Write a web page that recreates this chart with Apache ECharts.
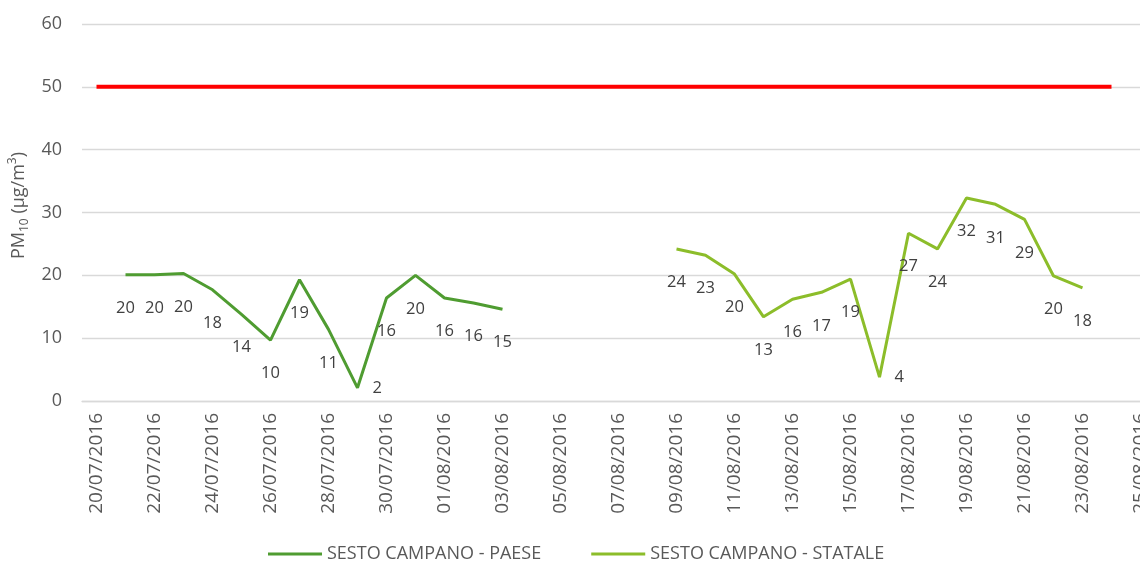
<!DOCTYPE html>
<html>
<head>
<meta charset="utf-8">
<script src="https://cdn.jsdelivr.net/npm/echarts@6/dist/echarts.min.js"></script>
<style>
  html, body { margin: 0; padding: 0; background: #ffffff; }
  #chart { width: 1140px; height: 564px; }
</style>
</head>
<body>
<div id="chart"></div>
<script>
// Daily dates on the horizontal axis (one category per day)
const categories = [
  '20/07/2016', '21/07/2016', '22/07/2016', '23/07/2016', '24/07/2016', '25/07/2016',
  '26/07/2016', '27/07/2016', '28/07/2016', '29/07/2016', '30/07/2016', '31/07/2016',
  '01/08/2016', '02/08/2016', '03/08/2016', '04/08/2016', '05/08/2016', '06/08/2016',
  '07/08/2016', '08/08/2016', '09/08/2016', '10/08/2016', '11/08/2016', '12/08/2016',
  '13/08/2016', '14/08/2016', '15/08/2016', '16/08/2016', '17/08/2016', '18/08/2016',
  '19/08/2016', '20/08/2016', '21/08/2016', '22/08/2016', '23/08/2016', '24/08/2016',
  '25/08/2016'
];

// Monitoring site "Paese": first day and daily PM10 values
const paeseStart = '21/07/2016';
const paeseValues = [20.1, 20.1, 20.3, 17.7, 13.8, 9.7, 19.3, 11.4, 2.1, 16.4, 20.0, 16.4, 15.6, 14.6];

// Monitoring site "Statale": first day and daily PM10 values
const stataleStart = '09/08/2016';
const stataleValues = [24.2, 23.2, 20.2, 13.4, 16.2, 17.3, 19.4, 3.8, 26.7, 24.2, 32.3, 31.3, 28.9, 19.9, 18.0];

// Daily limit value and the span it is drawn over
const limitValue = 50;
const limitFrom = '20/07/2016';
const limitTo = '24/08/2016';

// Vertical axis range
const yMin = 0, yMax = 60, yStep = 10;

const seriesNames = ['SESTO CAMPANO - PAESE', 'SESTO CAMPANO - STATALE'];

const FONT = 'Open Sans';
const GREY = '#595959';

function toPairs(start, values) {
  const i0 = categories.indexOf(start);
  return values.map((v, i) => [categories[i0 + i], v]);
}

// the lowest points carry their label beside them; the point right after
// the dip has its label nudged to the right
function withLabels(start, values) {
  return toPairs(start, values).map((p, i) => {
    if (values[i] < 5) {
      return { value: p, label: { position: 'right', distance: 15, offset: [0, 3] } };
    }
    if (i > 0 && values[i - 1] < 5 && values[i] > 25) {
      return { value: p, label: { offset: [5, 0] } };
    }
    return p;
  });
}

const labelCommon = {
  show: true,
  position: 'bottom',
  distance: 25,
  fontFamily: FONT,
  fontSize: 16.5,
  color: '#404040',
  formatter: (p) => Math.round(p.value[1]).toString()
};

const chart = echarts.init(document.getElementById('chart'), null, { renderer: 'canvas' });

chart.setOption({
  animation: false,
  backgroundColor: '#ffffff',
  grid: {
    left: 82,
    top: 24,
    width: 1073,
    height: 377,
    outerBoundsMode: 'none',
    containLabel: false
  },
  legend: {
    data: seriesNames,
    top: 540,
    left: 263,
    icon: 'rect',
    itemWidth: 54,
    itemHeight: 3,
    itemGap: 50,
    textStyle: { fontFamily: FONT, fontSize: 18, color: GREY }
  },
  xAxis: {
    type: 'category',
    data: categories,
    boundaryGap: true,
    axisLine: { show: true, lineStyle: { color: '#d9d9d9', width: 1.3 } },
    axisTick: { show: false },
    axisLabel: {
      interval: 1,
      rotate: 90,
      margin: 12,
      fontFamily: FONT,
      fontSize: 19,
      color: GREY
    },
    splitLine: { show: false }
  },
  yAxis: {
    type: 'value',
    min: yMin,
    max: yMax,
    interval: yStep,
    axisLine: { show: false },
    axisTick: { show: false },
    axisLabel: { margin: 20, fontFamily: FONT, fontSize: 18, color: GREY },
    splitLine: { show: true, lineStyle: { color: '#d9d9d9', width: 1.3 } },
    name: '{t|PM}{sub|10}{t| (µg/m}{sup|3}{t|)}',
    nameLocation: 'middle',
    nameRotate: 90,
    nameGap: 50,
    nameTextStyle: {
      padding: [0, 0, 0, 14],
      rich: {
        t: { fontFamily: FONT, fontSize: 18, color: GREY, lineHeight: 24 },
        sub: { fontFamily: FONT, fontSize: 12, color: GREY, verticalAlign: 'bottom', lineHeight: 24, padding: [8, 0, 0, 0] },
        sup: { fontFamily: FONT, fontSize: 12, color: GREY, verticalAlign: 'top', lineHeight: 24 }
      }
    }
  },
  series: [
    {
      name: seriesNames[0],
      type: 'line',
      data: withLabels(paeseStart, paeseValues),
      symbol: 'circle',
      symbolSize: 0,
      showSymbol: true,
      itemStyle: { color: '#4f9c31' },
      lineStyle: { color: '#4f9c31', width: 3 },
      label: labelCommon,
      labelLayout: { hideOverlap: false },
      z: 3
    },
    {
      name: seriesNames[1],
      type: 'line',
      data: withLabels(stataleStart, stataleValues),
      symbol: 'circle',
      symbolSize: 0,
      showSymbol: true,
      itemStyle: { color: '#8cbd2a' },
      lineStyle: { color: '#8cbd2a', width: 3 },
      label: labelCommon,
      labelLayout: { hideOverlap: false },
      z: 3
    },
    {
      name: 'limite',
      type: 'line',
      data: [[limitFrom, limitValue], [limitTo, limitValue]],
      symbol: 'none',
      lineStyle: { color: '#ff0000', width: 4 },
      itemStyle: { color: '#ff0000' },
      z: 2
    }
  ]
});
</script>
</body>
</html>
